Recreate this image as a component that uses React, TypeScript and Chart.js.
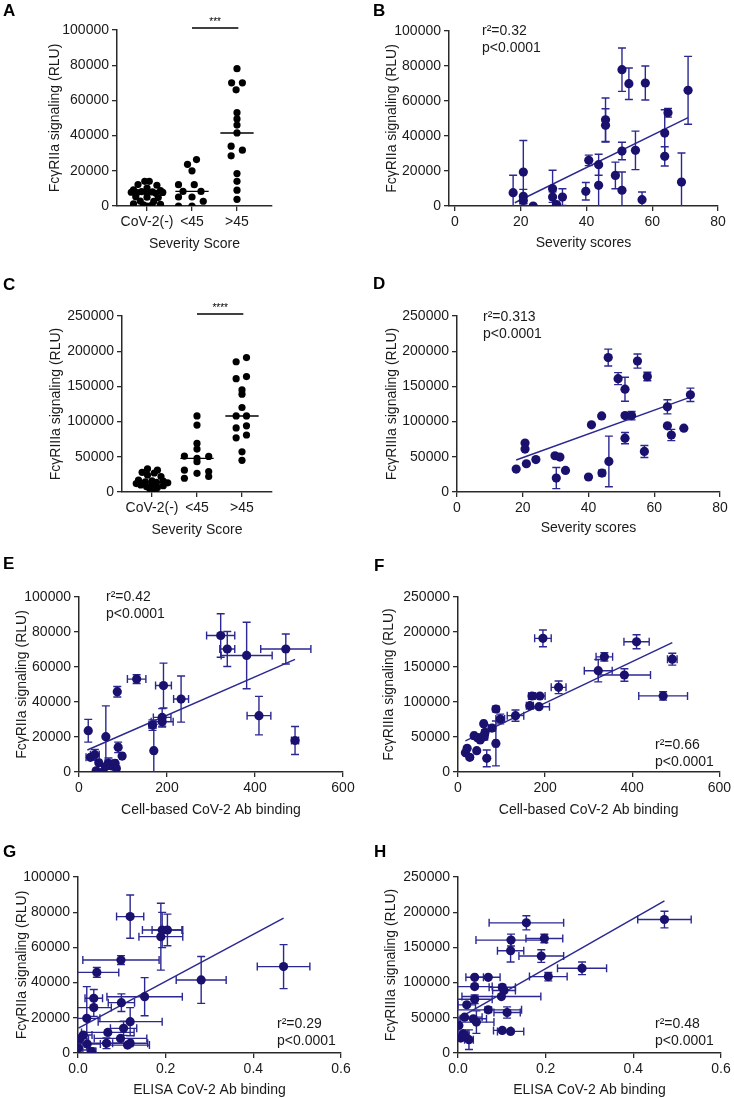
import React, { useEffect, useRef } from 'react';
import { Chart, registerables } from 'chart.js';

Chart.register(...registerables);

const FONT = "'Liberation Sans', Arial, Helvetica, sans-serif";
const DOT = '#1a106e';
const LINE = '#2b2891';
const INK = '#1a1a1a';
const AXIS = '#2a2a2a';

// ---------- categories & ticks ----------
const severityCats = ['CoV-2(-)', '<45', '>45'];
const ticksRLU100k = [0, 20000, 40000, 60000, 80000, 100000];
const ticksRLU250k = [0, 50000, 100000, 150000, 200000, 250000];
const ticksSeverity = [0, 20, 40, 60, 80];
const ticksCell = [0, 200, 400, 600];
const ticksElisa = [0, 0.2, 0.4, 0.6];
const ticksCat = [1, 2, 3];

// ---------- Panel A (FcγRIIa by severity group) ----------
const aNegVals = [14000, 14000, 12200, 11800, 10200, 9200, 8800, 8200, 8000, 7800, 7700, 7600, 7600, 7200, 5200, 5000, 4800, 2800, 2600, 1200, 900, 600, 400, 0];
const aNegJit = [-0.05, 0.05, -0.2, 0.22, 0, -0.3, 0.3, -0.12, 0.12, -0.35, 0.35, 0, -0.22, 0.2, -0.25, 0, 0.25, -0.15, 0.15, -0.3, 0.3, -0.08, 0.1, 0];
const aLowVals = [26400, 23700, 20000, 12100, 12100, 8300, 8300, 5100, 5100, 2700, 0, 0];
const aLowJit = [0.1, -0.1, 0, -0.3, 0.05, -0.2, 0.2, -0.3, 0, 0.25, -0.3, 0];
const aHighVals = [78000, 70000, 70000, 66000, 53000, 49500, 46000, 41500, 34000, 31700, 28500, 18400, 14000, 9000, 3800];
const aHighJit = [0, -0.12, 0.12, -0.02, 0, 0, 0, 0, -0.13, 0.12, -0.13, 0, 0, 0, 0];

// ---------- Panel C (FcγRIIIa by severity group) ----------
const cNegVals = [33000, 31000, 28000, 27000, 24000, 22000, 17000, 16000, 15500, 14500, 13800, 13000, 12000, 11000, 10000, 9000, 7500, 6500, 5000, 4000, 3000];
const cNegJit = [-0.1, 0.12, -0.22, 0.05, -0.1, 0.2, -0.3, 0, 0.25, -0.15, 0.1, 0.35, -0.35, 0, -0.25, 0.25, -0.12, 0.12, -0.05, 0.08, 0];
const cLowVals = [108000, 95000, 69000, 61000, 51000, 50500, 47800, 43000, 31000, 29000, 26500, 22000, 19500];
const cLowJit = [0, 0, 0, 0, -0.28, 0.26, 0, 0, -0.28, 0.26, 0, 0.26, -0.28];
const cHighVals = [191000, 185000, 164000, 161000, 145000, 139000, 120000, 108000, 108000, 94000, 91000, 81000, 77000, 57000, 45000];
const cHighJit = [0.1, -0.13, 0.1, -0.13, 0, 0, 0, -0.13, 0.1, 0.1, -0.13, 0.1, -0.13, 0, 0];

// ---------- Panel B (FcγRIIa vs severity score) ----------
const bX = [17.7, 20.8, 20.8, 20.8, 23.8, 29.7, 29.7, 30.9, 32.7, 39.8, 40.7, 43.7, 43.7, 45.8, 45.8, 48.8, 50.8, 50.8, 50.8, 52.9, 54.9, 56.9, 57.9, 63.8, 63.8, 64.8, 68.9, 70.9];
const bY = [7600, 19400, 5500, 3200, 0, 9900, 5100, 800, 5100, 8400, 26100, 23600, 11800, 49300, 46100, 17500, 77900, 31400, 9000, 69900, 31800, 3600, 70300, 41700, 28400, 53300, 13700, 66100];
const bYErr = [10000, 18000, 4000, 2000, 500, 10500, 3000, 500, 4800, 5000, 3000, 6000, 12000, 12400, 9500, 7600, 12400, 5000, 10400, 9000, 11000, 4400, 9700, 13300, 5500, 2500, 16600, 19400];
const bFit = { slope: 922, intercept: -14900, from: 18.2, to: 70.9 };

// ---------- Panel D (FcγRIIIa vs severity score) ----------
const dX = [46.0, 54.9, 49.0, 57.9, 51.1, 71.0, 64.0, 40.9, 44.0, 51.1, 53.1, 64.0, 65.2, 69.0, 51.1, 57.0, 18.0, 21.1, 24.0, 30.2, 33.0, 40.0, 44.1, 46.2, 29.8, 31.3, 20.7, 20.7];
const dY = [190900, 186000, 161000, 164000, 146000, 138000, 121000, 95400, 108000, 108500, 108500, 94000, 81000, 90700, 76500, 57600, 32600, 40100, 46000, 19800, 30600, 21300, 26900, 43400, 51500, 49600, 69500, 61000];
const dYErr = [12000, 10000, 8500, 6000, 17000, 9500, 10000, 0, 0, 0, 6000, 0, 8000, 0, 8000, 8500, 0, 0, 0, 15000, 0, 0, 4000, 36000, 0, 0, 0, 0];
const dFit = { slope: 1686, intercept: 15000, from: 18, to: 71 };

// ---------- Panel E (FcγRIIa vs cell-based binding) ----------
const eX = [322, 337, 381, 470, 131, 87, 192, 232, 409, 189, 189, 167, 491, 21, 61, 170, 26, 36, 45, 39, 54, 67, 75, 82, 85, 89, 98, 60];
const eY = [78000, 70300, 66600, 70300, 53100, 45900, 49400, 41700, 32200, 31200, 28700, 26800, 18000, 23600, 20200, 12200, 8400, 9900, 5300, 700, 0, 5000, 3500, 5000, 2000, 14100, 9100, 3000];
const eXErr = [32, 17, 58, 57, 21, 4, 18, 17, 27, 20, 25, 8, 8, 0, 0, 4, 10, 10, 5, 0, 0, 8, 8, 5, 5, 5, 5, 0];
const eYErr = [12400, 10000, 19000, 8600, 2500, 3000, 12800, 13200, 11000, 5000, 3000, 3000, 8000, 6500, 17600, 15000, 0, 3000, 0, 0, 0, 3000, 0, 0, 0, 3000, 0, 0];
const eFit = { slope: 109.7, intercept: 10500, from: 19, to: 491 };

// ---------- Panel F (FcγRIIIa vs cell-based binding) ----------
const fX = [195, 410, 336, 492, 322, 382, 471, 231, 188, 170, 186, 165, 132, 87, 97, 59, 78, 62, 37, 45, 17, 27, 21, 43, 66, 87, 51, 60];
const fY = [190900, 186000, 164500, 161200, 144700, 138600, 108700, 120900, 108600, 108600, 93300, 94800, 80500, 90000, 75700, 69000, 62800, 56600, 51900, 49000, 27600, 21000, 33800, 30400, 19500, 40800, 45700, 50500];
const fXErr = [19, 29, 19, 11, 32, 60, 56, 17, 12, 8, 24, 8, 19, 4, 10, 5, 8, 5, 5, 5, 0, 0, 0, 0, 0, 5, 0, 8];
const fYErr = [12000, 10000, 6000, 8500, 16000, 9000, 6000, 9000, 0, 0, 0, 0, 8000, 4000, 7000, 0, 0, 4000, 0, 0, 0, 3000, 0, 0, 12000, 32000, 0, 5000];
const fFit = { slope: 295.2, intercept: 39500, from: 17, to: 492 };

// ---------- Panel G (FcγRIIa vs ELISA binding) ----------
const gX = [0.119, 0.192, 0.204, 0.189, 0.098, 0.043, 0.469, 0.281, 0.152, 0.036, 0.036, 0.099, 0.119, 0.02, 0.104, 0.068, 0.012, 0.004, 0.001, 0.021, 0.031, 0.065, 0.097, 0.113, 0.119];
const gY = [77500, 69900, 69900, 66100, 52800, 45800, 49100, 41500, 32000, 31100, 25800, 28600, 17800, 19700, 14000, 11700, 10200, 8000, 2700, 5100, 800, 5500, 8300, 4500, 5500];
const gXErr = [0.031, 0.045, 0.035, 0.05, 0.087, 0.05, 0.06, 0.057, 0.086, 0.02, 0.04, 0.03, 0.073, 0.03, 0.03, 0.06, 0.02, 0.02, 0.01, 0.03, 0.01, 0.06, 0.06, 0.05, 0.04];
const gYErr = [12300, 10000, 9000, 19000, 2500, 2800, 12500, 13300, 10800, 5000, 5000, 5000, 8000, 18000, 4000, 0, 0, 0, 0, 0, 2000, 3000, 0, 0, 0];
const gFit = { slope: 133500, intercept: 14000, from: 0.001, to: 0.469 };

// ---------- Panel H (FcγRIIIa vs ELISA binding) ----------
const hX = [0.471, 0.156, 0.197, 0.121, 0.12, 0.19, 0.283, 0.206, 0.038, 0.069, 0.038, 0.101, 0.105, 0.099, 0.038, 0.02, 0.069, 0.112, 0.015, 0.035, 0.042, 0.002, 0.101, 0.12, 0.012, 0.006, 0.025, 0.015];
const hY = [189600, 184900, 162700, 160400, 145300, 137700, 120300, 108500, 107500, 107500, 94300, 93400, 88700, 80200, 76400, 68400, 61300, 57500, 50900, 48600, 43900, 39200, 32100, 30700, 27400, 21200, 18900, 24500];
const hXErr = [0.061, 0.085, 0.042, 0.08, 0.03, 0.051, 0.056, 0.043, 0.02, 0.027, 0.04, 0.03, 0.026, 0.09, 0.04, 0.02, 0.076, 0.03, 0.04, 0.03, 0.04, 0, 0.02, 0.03, 0.01, 0.005, 0.01, 0.01];
const hYErr = [11800, 10000, 6000, 8500, 16000, 9000, 9000, 6000, 0, 0, 0, 4000, 0, 0, 6000, 0, 4000, 8000, 0, 0, 16000, 0, 0, 0, 0, 0, 14000, 0];
const hFit = { slope: 355000, intercept: 48800, from: 0.002, to: 0.471 };

// ---------- titles ----------
const yTitleIIa = 'FcγRIIa signaling (RLU)';
const yTitleIIIa = 'FcγRIIIa signaling (RLU)';

type Fit = { slope: number; intercept: number; from: number; to: number };
type Group = { vals: number[]; jit: number[] };

interface PanelSpec {
  letter: string;
  letterPos: [number, number];
  box: [number, number, number, number];
  area: [number, number, number, number];
  yTitle: string;
  xTitle: string;
  yTitleX: number;
  xTitleY: number;
  xMin: number;
  xMax: number;
  xTicks: number[];
  xFmt: (v: number) => string;
  yMax: number;
  yTicks: number[];
  groups?: Group[];
  sig?: string;
  xs?: number[];
  ys?: number[];
  xErr?: number[];
  yErr?: number[];
  fit?: Fit;
  stats?: string[];
  statsPos?: [number, number];
}

const median = (arr: number[]) => {
  const s = [...arr].sort((a, b) => a - b);
  const n = s.length;
  return n % 2 ? s[(n - 1) / 2] : (s[n / 2 - 1] + s[n / 2]) / 2;
};

const catFmt = (v: number) => severityCats[Math.round(v) - 1] ?? '';
const intFmt = (v: number) => String(Math.round(v));
const decFmt = (v: number) => v.toFixed(1);

const panels: PanelSpec[] = [
  {
    letter: 'A', letterPos: [3, 11], box: [0, 0, 367, 252], area: [117, 30, 272, 206],
    yTitle: yTitleIIa, xTitle: 'Severity Score', yTitleX: 55, xTitleY: 244,
    xMin: 0.333, xMax: 3.778, xTicks: ticksCat, xFmt: catFmt, yMax: 100000, yTicks: ticksRLU100k,
    groups: [{ vals: aNegVals, jit: aNegJit }, { vals: aLowVals, jit: aLowJit }, { vals: aHighVals, jit: aHighJit }],
    sig: '***',
  },
  {
    letter: 'B', letterPos: [373, 11], box: [367, 0, 367, 251], area: [449, 31, 718, 206],
    yTitle: yTitleIIa, xTitle: 'Severity scores', yTitleX: 392, xTitleY: 243,
    xMin: -1.8, xMax: 80, xTicks: ticksSeverity, xFmt: intFmt, yMax: 100000, yTicks: ticksRLU100k,
    xs: bX, ys: bY, yErr: bYErr, fit: bFit, stats: ['r²=0.32', 'p<0.0001'], statsPos: [482, 31],
  },
  {
    letter: 'C', letterPos: [3, 285], box: [0, 258, 367, 280], area: [122, 316, 272, 492],
    yTitle: yTitleIIIa, xTitle: 'Severity Score', yTitleX: 56, xTitleY: 530,
    xMin: 0.333, xMax: 3.667, xTicks: ticksCat, xFmt: catFmt, yMax: 250000, yTicks: ticksRLU250k,
    groups: [{ vals: cNegVals, jit: cNegJit }, { vals: cLowVals, jit: cLowJit }, { vals: cHighVals, jit: cHighJit }],
    sig: '****',
  },
  {
    letter: 'D', letterPos: [373, 284], box: [367, 258, 367, 278], area: [457, 316, 720, 492],
    yTitle: yTitleIIIa, xTitle: 'Severity scores', yTitleX: 392, xTitleY: 528,
    xMin: 0, xMax: 80, xTicks: ticksSeverity, xFmt: intFmt, yMax: 250000, yTicks: ticksRLU250k,
    xs: dX, ys: dY, yErr: dYErr, fit: dFit, stats: ['r²=0.313', 'p<0.0001'], statsPos: [483, 317],
  },
  {
    letter: 'E', letterPos: [3, 564], box: [0, 540, 367, 278], area: [79, 597, 343, 772],
    yTitle: yTitleIIa, xTitle: 'Cell-based CoV-2 Ab binding', yTitleX: 22, xTitleY: 810,
    xMin: 0, xMax: 600, xTicks: ticksCell, xFmt: intFmt, yMax: 100000, yTicks: ticksRLU100k,
    xs: eX, ys: eY, xErr: eXErr, yErr: eYErr, fit: eFit, stats: ['r²=0.42', 'p<0.0001'], statsPos: [106, 597],
  },
  {
    letter: 'F', letterPos: [374, 566], box: [367, 540, 367, 278], area: [458, 597, 721, 772],
    yTitle: yTitleIIIa, xTitle: 'Cell-based CoV-2 Ab binding', yTitleX: 389, xTitleY: 810,
    xMin: 0, xMax: 600, xTicks: ticksCell, xFmt: intFmt, yMax: 250000, yTicks: ticksRLU250k,
    xs: fX, ys: fY, xErr: fXErr, yErr: fYErr, fit: fFit, stats: ['r²=0.66', 'p<0.0001'], statsPos: [655, 745],
  },
  {
    letter: 'G', letterPos: [3, 852], box: [0, 822, 367, 276], area: [78, 877, 341, 1053],
    yTitle: yTitleIIa, xTitle: 'ELISA CoV-2 Ab binding', yTitleX: 22, xTitleY: 1090,
    xMin: 0, xMax: 0.6, xTicks: ticksElisa, xFmt: decFmt, yMax: 100000, yTicks: ticksRLU100k,
    xs: gX, ys: gY, xErr: gXErr, yErr: gYErr, fit: gFit, stats: ['r²=0.29', 'p<0.0001'], statsPos: [277, 1024],
  },
  {
    letter: 'H', letterPos: [374, 852], box: [367, 822, 367, 276], area: [458, 877, 721, 1053],
    yTitle: yTitleIIIa, xTitle: 'ELISA CoV-2 Ab binding', yTitleX: 391, xTitleY: 1090,
    xMin: 0, xMax: 0.6, xTicks: ticksElisa, xFmt: decFmt, yMax: 250000, yTicks: ticksRLU250k,
    xs: hX, ys: hY, xErr: hXErr, yErr: hYErr, fit: hFit, stats: ['r²=0.48', 'p<0.0001'], statsPos: [655, 1024],
  },
];

function buildDatasets(p: PanelSpec): any[] {
  const ds: any[] = [];
  if (p.groups) {
    p.groups.forEach((g, gi) => {
      ds.push({
        type: 'scatter',
        data: g.vals.map((v, i) => ({ x: gi + 1 + g.jit[i], y: v })),
        pointRadius: 3.6,
        pointBackgroundColor: '#000',
        pointBorderWidth: 0,
        showLine: false,
      });
    });
    p.groups.forEach((g, gi) => {
      const m = median(g.vals);
      ds.push({
        type: 'scatter',
        data: [{ x: gi + 1 - 0.37, y: m }, { x: gi + 1 + 0.37, y: m }],
        showLine: true,
        borderColor: '#000',
        borderWidth: 1.4,
        pointRadius: 0,
      });
    });
  } else if (p.xs && p.ys && p.fit) {
    ds.push({
      type: 'scatter',
      data: p.xs.map((x, i) => ({ x, y: p.ys![i] })),
      pointRadius: 4.6,
      pointBackgroundColor: DOT,
      pointBorderWidth: 0,
      showLine: false,
    });
    const f = p.fit;
    ds.push({
      type: 'scatter',
      data: [
        { x: f.from, y: f.intercept + f.slope * f.from },
        { x: f.to, y: f.intercept + f.slope * f.to },
      ],
      showLine: true,
      borderColor: LINE,
      borderWidth: 1.5,
      pointRadius: 0,
    });
  }
  return ds;
}

function makePlugin(p: PanelSpec) {
  const [cx, cy] = p.box;
  return {
    id: 'panelExtras' + p.letter,
    beforeDatasetsDraw(chart: any) {
      if (!p.xs || !p.ys) return;
      const { ctx, chartArea, scales } = chart;
      const xs = scales.x;
      const ys = scales.y;
      ctx.save();
      ctx.beginPath();
      ctx.rect(chartArea.left, chartArea.top - 2, chartArea.right - chartArea.left + 4, chartArea.bottom - chartArea.top + 2);
      ctx.clip();
      ctx.strokeStyle = LINE;
      ctx.lineWidth = 1.4;
      const cap = 4;
      p.xs.forEach((xv, i) => {
        const yv = p.ys![i];
        const px = xs.getPixelForValue(xv);
        const py = ys.getPixelForValue(yv);
        const ey = p.yErr ? p.yErr[i] : 0;
        const ex = p.xErr ? p.xErr[i] : 0;
        ctx.beginPath();
        if (ey > 0) {
          const y1 = ys.getPixelForValue(yv + ey);
          const y2 = ys.getPixelForValue(yv - ey);
          ctx.moveTo(px, y1); ctx.lineTo(px, y2);
          ctx.moveTo(px - cap, y1); ctx.lineTo(px + cap, y1);
          ctx.moveTo(px - cap, y2); ctx.lineTo(px + cap, y2);
        }
        if (ex > 0) {
          const x1 = xs.getPixelForValue(xv - ex);
          const x2 = xs.getPixelForValue(xv + ex);
          ctx.moveTo(x1, py); ctx.lineTo(x2, py);
          ctx.moveTo(x1, py - cap); ctx.lineTo(x1, py + cap);
          ctx.moveTo(x2, py - cap); ctx.lineTo(x2, py + cap);
        }
        ctx.stroke();
      });
      ctx.restore();
    },
    afterDraw(chart: any) {
      const { ctx, chartArea, scales } = chart;
      ctx.save();
      ctx.fillStyle = '#000';
      ctx.textBaseline = 'middle';
      ctx.textAlign = 'left';
      ctx.font = `bold 17px ${FONT}`;
      ctx.fillText(p.letter, p.letterPos[0] - cx, p.letterPos[1] - cy);
      if (p.stats && p.statsPos) {
        ctx.font = `14px ${FONT}`;
        ctx.fillStyle = INK;
        p.stats.forEach((s, i) => {
          ctx.fillText(s, p.statsPos![0] - cx, p.statsPos![1] - cy + i * 17.5);
        });
      }
      if (p.sig) {
        const x1 = scales.x.getPixelForValue(2);
        const x2 = scales.x.getPixelForValue(3.03);
        const y = chartArea.top - 2;
        ctx.strokeStyle = '#000';
        ctx.lineWidth = 1.4;
        ctx.beginPath();
        ctx.moveTo(x1, y);
        ctx.lineTo(x2, y);
        ctx.stroke();
        ctx.font = `10px ${FONT}`;
        ctx.textAlign = 'center';
        ctx.fillStyle = '#000';
        ctx.fillText(p.sig, (x1 + x2) / 2, y - 6);
      }
      ctx.restore();
    },
  };
}

function makeChart(canvas: HTMLCanvasElement, p: PanelSpec) {
  const [cx, cy, cw, ch] = p.box;
  const [L, T, R, B] = p.area;
  const tickFont = { size: 14, family: FONT };
  const titleFont = { size: 14, family: FONT, lineHeight: 1 };
  return new Chart(canvas, {
    type: 'scatter',
    data: { datasets: buildDatasets(p) },
    options: {
      animation: false,
      responsive: false,
      maintainAspectRatio: false,
      devicePixelRatio: 1,
      events: [],
      layout: { autoPadding: false, padding: { left: 0, top: T - cy, right: cx + cw - R, bottom: 0 } },
      plugins: { legend: { display: false }, tooltip: { enabled: false } },
      scales: {
        x: {
          type: 'linear',
          position: 'bottom',
          min: p.xMin,
          max: p.xMax,
          afterBuildTicks: (ax: any) => { ax.ticks = p.xTicks.map((v) => ({ value: v })); },
          afterFit: (ax: any) => { ax.height = cy + ch - B; },
          ticks: {
            callback: (v: any) => p.xFmt(Number(v)),
            font: tickFont, color: INK, padding: 3, autoSkip: false, maxRotation: 0, minRotation: 0,
          },
          grid: { drawOnChartArea: false, drawTicks: true, tickLength: 5, color: AXIS, lineWidth: 1.3 },
          border: { display: true, color: AXIS, width: 1.5 },
          title: { display: true, text: p.xTitle, font: titleFont, color: INK, padding: { top: 0, bottom: 1 } },
        },
        y: {
          type: 'linear',
          position: 'left',
          min: 0,
          max: p.yMax,
          afterBuildTicks: (ax: any) => { ax.ticks = p.yTicks.map((v) => ({ value: v })); },
          afterFit: (ax: any) => { ax.width = L - cx; },
          ticks: {
            callback: (v: any) => String(Math.round(Number(v))),
            font: tickFont, color: INK, padding: 3, autoSkip: false,
          },
          grid: { drawOnChartArea: false, drawTicks: true, tickLength: 5, color: AXIS, lineWidth: 1.3 },
          border: { display: true, color: AXIS, width: 1.5 },
          title: { display: true, text: p.yTitle, font: titleFont, color: INK, padding: { top: p.yTitleX - cx - 7, bottom: 0 } },
        },
      },
    } as any,
    plugins: [makePlugin(p)],
  });
}

function Panel({ spec }: { spec: PanelSpec }) {
  const ref = useRef<HTMLCanvasElement | null>(null);
  useEffect(() => {
    if (!ref.current) return;
    const chart = makeChart(ref.current, spec);
    return () => chart.destroy();
  }, [spec]);
  const [cx, cy, cw, ch] = spec.box;
  return (
    <canvas
      ref={ref}
      width={cw}
      height={ch}
      style={{ position: 'absolute', left: cx, top: cy, width: cw, height: ch, display: 'block' }}
    />
  );
}

export default function App() {
  return (
    <div
      style={{
        position: 'absolute', left: 0, top: 0, width: 734, height: 1098,
        overflow: 'hidden', background: '#fff',
      }}
    >
      {panels.map((p) => (
        <Panel key={p.letter} spec={p} />
      ))}
    </div>
  );
}
